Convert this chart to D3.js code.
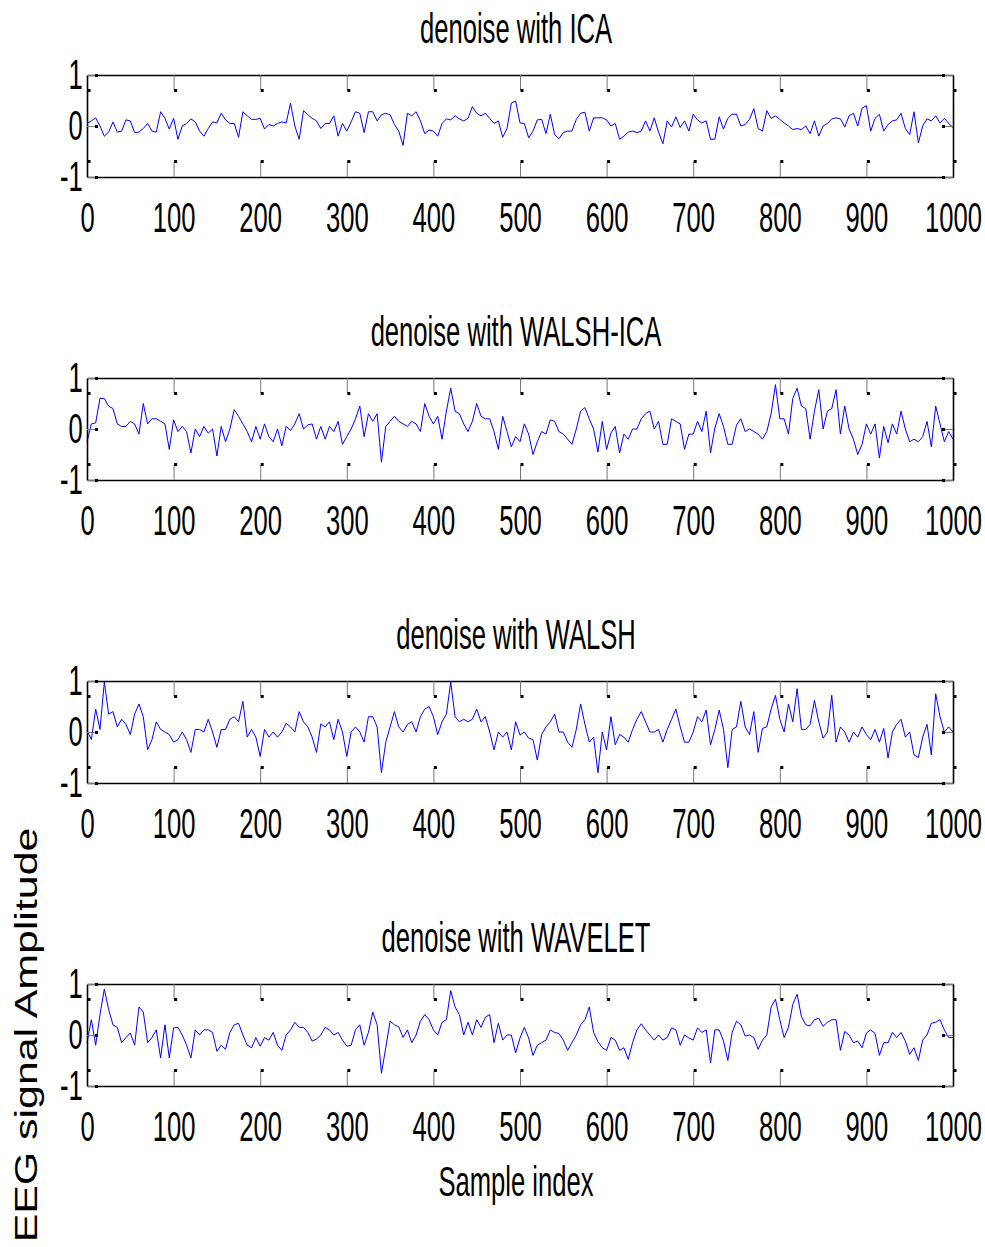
<!DOCTYPE html>
<html>
<head>
<meta charset="utf-8">
<script src="https://cdn.jsdelivr.net/npm/d3@7"></script>
<style>
  body { margin: 0; background: #fff; }
  svg { display: block; }
</style>
</head>
<body>
<div id="chart"></div>
<script>
// values, one every 5 samples (0..1000)
var step = 5;
var titles = ["denoise with ICA", "denoise with WALSH-ICA", "denoise with WALSH", "denoise with WAVELET"];
var xTicks = [0, 100, 200, 300, 400, 500, 600, 700, 800, 900, 1000];
var yTicks = [-1, 0, 1];
var xLabel = "Sample index";
var yLabel = "EEG signal Amplitude";

var ica = [
  0.05, 0.1, 0.16, 0.0, -0.2, -0.12, 0.08, -0.12, -0.1, 0.12,
  0.1, -0.13, -0.12, -0.05, 0.05, -0.1, -0.12, 0.28, 0.15, -0.06,
  0.15, -0.26, 0.0, 0.05, 0.14, 0.08, -0.1, -0.2, -0.05, 0.08,
  0.06, 0.25, 0.12, 0.05, 0.05, -0.22, 0.28, 0.2, 0.13, 0.13,
  0.15, -0.06, 0.03, 0.0, 0.05, 0.08, 0.06, 0.45, 0.0, -0.26,
  0.3, 0.22, 0.15, 0.1, -0.05, 0.05, 0.05, 0.2, -0.2, 0.05,
  -0.1, 0.08, 0.28, 0.25, -0.13, 0.28, 0.28, 0.1, 0.22, 0.25,
  0.22, 0.03, -0.1, -0.38, 0.25, 0.2, 0.28, 0.1, -0.15, -0.08,
  -0.1, -0.2, 0.05, 0.14, 0.12, 0.2, 0.14, 0.1, 0.15, 0.38,
  0.25, 0.2, 0.25, 0.15, 0.05, 0.1, -0.22, -0.05, 0.45, 0.49,
  0.06, 0.05, -0.23, -0.1, 0.12, 0.13, -0.15, 0.23, -0.17, -0.25,
  -0.13, -0.1, -0.1, 0.13, 0.25, 0.27, -0.1, 0.16, 0.16, 0.16,
  0.12, 0.0, 0.05, -0.26, -0.2, -0.12, -0.1, -0.13, -0.1, 0.1,
  -0.1, 0.16, -0.12, -0.35, 0.1, -0.02, 0.18, -0.03, 0.1, -0.1,
  0.23, 0.12, 0.06, 0.1, -0.26, -0.26, 0.18, -0.06, 0.15, 0.23,
  0.23, 0.0, 0.03, 0.13, 0.34, -0.05, -0.1, 0.3, 0.15, 0.2,
  0.13, 0.06, 0.0, -0.07, -0.05, -0.07, 0.0, -0.15, 0.1, -0.2,
  0.0, 0.05, 0.14, 0.16, 0.14, -0.02, 0.2, 0.25, 0.0, 0.35,
  0.4, -0.1, 0.15, 0.23, -0.1, 0.03, 0.1, 0.12, 0.25, -0.05,
  -0.17, 0.28, -0.33, 0.0, 0.14, 0.1, 0.2, 0.06, 0.15, 0.05,
  -0.03
];

var walshIca = [
  -0.25, 0.1, 0.12, 0.6, 0.6, 0.45, 0.4, 0.1, 0.05, 0.05,
  0.15, 0.1, -0.1, 0.5, 0.1, 0.2, 0.2, 0.15, 0.1, -0.4,
  0.18, -0.05, 0.05, -0.05, -0.47, 0.0, -0.15, 0.05, -0.08, 0.0,
  -0.53, 0.05, -0.25, 0.0, 0.38, 0.25, 0.1, -0.05, -0.25, 0.05,
  -0.2, 0.1, -0.15, -0.25, 0.0, -0.33, 0.05, -0.03, 0.1, 0.3,
  0.0, 0.08, 0.1, -0.2, 0.05, -0.2, 0.05, -0.05, 0.15, -0.3,
  -0.15, 0.0, 0.2, 0.45, -0.15, 0.3, 0.15, 0.3, -0.65, 0.05,
  0.15, 0.25, 0.15, 0.1, 0.05, 0.15, 0.1, -0.05, 0.5, 0.25,
  0.1, 0.25, -0.2, 0.35, 0.8, 0.35, 0.3, 0.1, -0.05, 0.15,
  0.5, 0.25, 0.2, 0.2, -0.05, -0.4, 0.25, -0.05, -0.35, -0.15,
  -0.25, 0.1, -0.1, -0.5, -0.25, -0.05, -0.1, 0.18, 0.15, -0.05,
  -0.1, -0.2, -0.3, 0.0, 0.35, 0.42, 0.2, 0.0, -0.45, 0.15,
  -0.4, -0.08, 0.05, -0.47, -0.1, -0.2, 0.0, 0.0, 0.2, 0.3,
  0.35, 0.0, 0.15, -0.3, -0.3, 0.2, 0.15, 0.1, -0.4, -0.1,
  -0.1, 0.15, -0.05, 0.35, -0.47, 0.02, 0.3, 0.05, -0.3, -0.3,
  0.08, 0.2, -0.05, 0.0, -0.05, -0.1, -0.2, -0.05, 0.3, 0.87,
  0.2, 0.2, -0.1, 0.6, 0.8, 0.45, 0.4, -0.2, 0.35, 0.77,
  0.0, 0.35, 0.4, 0.77, -0.1, 0.45, 0.0, -0.2, -0.5, -0.3,
  0.1, -0.1, 0.1, -0.57, 0.05, -0.27, 0.1, -0.1, 0.35, 0.0,
  -0.25, -0.2, -0.25, -0.15, 0.15, -0.35, 0.45, 0.1, -0.25, -0.05,
  -0.2
];

var walsh = [
  0.04, -0.15, 0.45, 0.05, 0.98, 0.35, 0.4, 0.1, 0.25, 0.15,
  -0.05, 0.35, 0.55, 0.3, -0.35, -0.15, 0.2, 0.05, 0.0, -0.05,
  -0.2, -0.15, 0.0, -0.15, -0.4, 0.05, 0.05, 0.0, 0.25, 0.0,
  -0.3, 0.05, 0.05, 0.25, 0.3, 0.2, 0.6, -0.1, 0.05, -0.1,
  -0.48, 0.05, -0.1, 0.0, -0.1, 0.0, 0.17, 0.1, 0.0, 0.4,
  0.2, 0.1, -0.1, -0.4, 0.16, 0.1, 0.2, -0.15, 0.25, 0.0,
  -0.48, 0.0, 0.1, 0.0, -0.2, 0.3, 0.3, 0.1, -0.8, -0.2,
  0.1, 0.4, 0.1, 0.0, 0.15, 0.2, 0.0, 0.3, 0.45, 0.5,
  0.3, -0.05, 0.2, 0.35, 0.98, 0.3, 0.2, 0.25, 0.2, 0.25,
  0.45, 0.2, 0.3, 0.0, -0.35, 0.0, -0.1, 0.0, -0.35, 0.2,
  -0.06, 0.0, -0.12, -0.15, -0.55, -0.05, 0.1, 0.2, 0.35, 0.0,
  0.0, -0.2, -0.3, 0.05, 0.55, 0.15, -0.2, -0.1, -0.8, 0.0,
  -0.35, 0.3, -0.25, -0.05, -0.1, -0.2, 0.05, 0.25, 0.4, 0.2,
  0.0, 0.0, 0.05, -0.2, 0.05, 0.25, 0.45, 0.1, -0.2, -0.2,
  0.0, 0.3, 0.2, 0.43, -0.25, 0.05, 0.43, 0.05, -0.7, 0.05,
  0.1, 0.6, 0.1, -0.05, 0.4, -0.4, 0.07, 0.1, 0.45, 0.72,
  0.25, 0.0, 0.55, 0.2, 0.85, 0.05, 0.05, 0.15, 0.62, 0.2,
  -0.12, 0.0, 0.72, -0.2, 0.1, 0.0, -0.2, 0.0, -0.1, 0.1,
  -0.05, -0.15, 0.05, -0.2, 0.07, -0.51, 0.0, 0.15, 0.25, -0.1,
  0.0, -0.45, -0.5, -0.1, 0.15, -0.45, 0.75, 0.3, 0.0, 0.1,
  0.0
];

var wavelet = [
  -0.15, 0.3, -0.2, 0.4, 0.9, 0.5, 0.2, 0.15, -0.15, -0.05,
  0.04, -0.2, 0.55, 0.45, -0.15, -0.05, 0.1, -0.45, 0.2, -0.45,
  0.14, 0.15, 0.0, -0.2, -0.45, 0.1, 0.0, 0.1, 0.1, 0.05,
  -0.32, -0.2, -0.28, 0.05, 0.2, 0.23, 0.0, -0.2, -0.25, -0.05,
  -0.22, -0.05, -0.1, 0.05, -0.2, -0.3, 0.0, 0.1, 0.25, 0.15,
  0.15, 0.05, -0.12, -0.08, 0.0, 0.15, 0.1, 0.0, 0.05, -0.1,
  -0.22, -0.2, 0.1, 0.2, -0.2, 0.05, 0.45, 0.2, -0.75, -0.25,
  0.27, 0.2, 0.16, -0.05, 0.1, -0.15, 0.0, 0.27, 0.4, 0.3,
  0.1, 0.0, 0.25, 0.3, 0.87, 0.55, 0.4, 0.0, 0.25, 0.0,
  0.3, 0.15, 0.35, 0.4, -0.15, 0.23, -0.1, 0.0, 0.0, -0.35,
  -0.06, 0.15, -0.06, -0.4, -0.2, -0.15, -0.1, 0.1, 0.05, 0.03,
  -0.1, -0.3, -0.15, 0.0, 0.2, 0.3, 0.55, 0.05, -0.13, -0.25,
  -0.3, -0.05, -0.1, -0.3, -0.25, -0.48, -0.15, 0.1, 0.22, 0.1,
  0.0, -0.1, 0.0, -0.1, -0.05, 0.14, 0.1, -0.2, 0.0, -0.06,
  -0.1, 0.14, 0.05, 0.1, -0.55, 0.1, 0.1, -0.12, -0.5, 0.05,
  0.27, 0.2, -0.02, 0.0, -0.05, -0.28, -0.1, 0.0, 0.55, 0.7,
  0.3, -0.05, 0.15, 0.6, 0.8, 0.36, 0.2, 0.18, 0.3, 0.33,
  0.17, 0.25, 0.3, 0.3, -0.3, 0.07, 0.0, -0.15, -0.12, -0.25,
  0.04, 0.1, 0.03, -0.4, -0.15, -0.15, 0.05, -0.05, 0.05, -0.12,
  -0.38, -0.25, -0.5, -0.1, 0.0, 0.23, 0.25, 0.3, 0.1, -0.05,
  -0.05
];

var series = [ica, walshIca, walsh, wavelet];

var width = 985, height = 1247;
var left = 87, right = 953;
var panelTop = [75, 378, 681, 984];
var panelH = 102;
var font = "'Liberation Sans', Arial, sans-serif";
var squeeze = "scale(0.61,1)";
var plain = function(d) { return String(d); };   // "1000", "-1" like the original

var svg = d3.select("#chart").append("svg")
	.attr("width", width)
	.attr("height", height);

var x = d3.scaleLinear().domain([0, 1000]).range([left, right]);

var line = d3.line()
	.x(function(d, i) { return x(i * step); });

function tickEnds(g, dx, dy) {
	// little dark squares at the inner end of every tick
	g.selectAll(".tick").each(function() {
		var t = d3.select(this), l = t.select("line");
		var x2 = +l.attr("x2") || 0, y2 = +l.attr("y2") || 0;
		t.append("rect")
			.attr("x", x2 + dx).attr("y", y2 + dy)
			.attr("width", 3).attr("height", 3)
			.attr("fill", "#000");
	});
}

series.forEach(function(values, k) {
	var top = panelTop[k];
	var y = d3.scaleLinear().domain([-1, 1]).range([top + panelH, top]);
	var g = svg.append("g").attr("class", "panel");

	g.append("path")
		.datum(values)
		.attr("fill", "none")
		.attr("stroke", "#0000ff")
		.attr("stroke-width", 1)
		.attr("d", line.y(function(d) { return y(d); }));

	var bottom = g.append("g")
		.attr("transform", "translate(0," + (top + panelH) + ")")
		.call(d3.axisBottom(x).tickValues(xTicks).tickFormat(plain).tickSize(-15).tickSizeOuter(0).tickPadding(25));
	var topAx = g.append("g")
		.attr("transform", "translate(0," + top + ")")
		.call(d3.axisTop(x).tickValues(xTicks).tickSize(-15).tickSizeOuter(0).tickFormat(""));
	var leftAx = g.append("g")
		.attr("transform", "translate(" + left + ",0)")
		.call(d3.axisLeft(y).tickValues(yTicks).tickFormat(plain).tickSize(-9).tickSizeOuter(0).tickPadding(7));
	var rightAx = g.append("g")
		.attr("transform", "translate(" + right + ",0)")
		.call(d3.axisRight(y).tickValues(yTicks).tickSize(-9).tickSizeOuter(0).tickFormat(""));

	[bottom, topAx, leftAx, rightAx].forEach(function(a) {
		a.attr("font-family", font).attr("font-size", 42);
		a.select(".domain").attr("stroke", "#000").attr("stroke-width", 1.6);
		a.selectAll(".tick line").attr("stroke", "#777").attr("stroke-width", 1);
		a.selectAll(".tick text").attr("fill", "#000").attr("transform", squeeze);
	});
	tickEnds(bottom, 0, -2);
	tickEnds(topAx, 0, -1);
	tickEnds(leftAx, -1, -1.5);
	tickEnds(rightAx, -2, -1.5);

	g.append("text")
		.attr("transform", "translate(" + ((left + right) / 2 - 4) + "," + (top - 32) + ") " + squeeze)
		.attr("text-anchor", "middle")
		.attr("font-family", font)
		.attr("font-size", 42)
		.text(titles[k]);
});

svg.append("text")
	.attr("transform", "translate(" + ((left + right) / 2 - 4) + "," + (panelTop[3] + panelH + 110) + ") " + squeeze)
	.attr("text-anchor", "middle")
	.attr("font-family", font)
	.attr("font-size", 42)
	.text(xLabel);

svg.append("text")
	.attr("transform", "translate(37," + (panelTop[3] + panelH / 2) + ") rotate(-90) scale(1.34,1)")
	.attr("text-anchor", "middle")
	.attr("font-family", font)
	.attr("font-size", 32)
	.text(yLabel);
</script>
</body>
</html>
